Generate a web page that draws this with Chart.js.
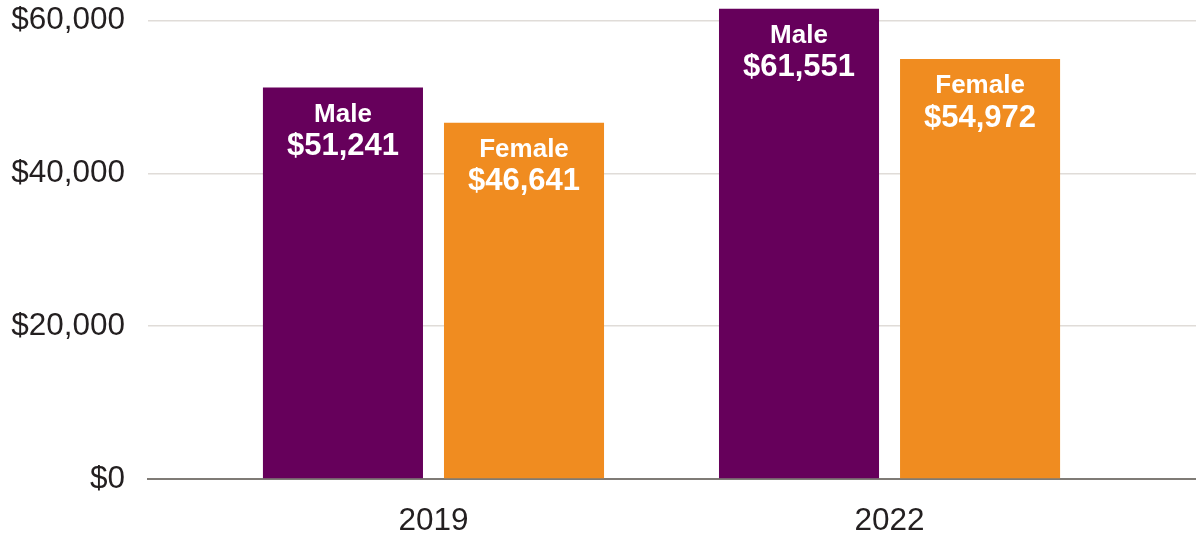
<!DOCTYPE html>
<html>
<head>
<meta charset="utf-8">
<script src="https://cdn.jsdelivr.net/npm/chart.js@4"></script>
<style>
  html, body { margin: 0; padding: 0; background: #fff; }
  #wrap { width: 1196px; height: 534px; }
</style>
</head>
<body>
<div id="wrap"><canvas id="salaryChart"></canvas></div>
<script>
// data
const years = ['2019', '2022'];
const seriesNames = ['Male', 'Female'];
const maleValues = [51241, 61551];
const femaleValues = [46641, 54972];
const yTicks = [0, 20000, 40000, 60000];

const FONT = "'Liberation Sans', Arial, sans-serif";
const fmt = v => '$' + v.toLocaleString('en-US');

// white labels inside the top of each bar
const barLabels = {
    id: 'barLabels',
    afterDatasetsDraw(chart) {
        const ctx = chart.ctx;
        ctx.save();
        ctx.fillStyle = '#ffffff';
        ctx.textAlign = 'center';
        ctx.textBaseline = 'middle';
        chart.data.datasets.forEach((ds, i) => {
            chart.getDatasetMeta(i).data.forEach((bar, j) => {
                ctx.font = 'bold 26px ' + FONT;
                ctx.fillText(ds.label, bar.x, bar.y + 27);
                ctx.font = 'bold 31px ' + FONT;
                ctx.fillText(fmt(ds.data[j].y), bar.x, bar.y + 59);
            });
        });
        ctx.restore();
    }
};

let ctx = document.getElementById('salaryChart').getContext('2d');

let salaryChart = new Chart(ctx, {
    type: 'bar',
    data: {
        datasets: [{
            label: seriesNames[0],
            data: maleValues.map((v, i) => ({ x: i, y: v })),
            backgroundColor: '#66005b'
        }, {
            label: seriesNames[1],
            data: femaleValues.map((v, i) => ({ x: i, y: v })),
            backgroundColor: '#f08c20'
        }]
    },
    options: {
        responsive: true,
        maintainAspectRatio: false,
        animation: false,
        categoryPercentage: 0.794,
        barPercentage: 0.884,
        layout: { padding: 0 },
        plugins: {
            legend: { display: false },
            tooltip: { enabled: false }
        },
        scales: {
            x: {
                type: 'linear',
                offset: false,
                min: -0.626,
                max: 1.672,
                afterBuildTicks: s => { s.ticks = years.map((y, i) => ({ value: i })); },
                afterFit: s => { s.height = 55; s.paddingLeft = 0; s.paddingRight = 0; },
                grid: { display: false },
                border: { display: true, color: '#7f7b76', width: 2 },
                ticks: {
                    callback: v => years[v],
                    padding: 15,
                    color: '#231f20',
                    font: { family: FONT, size: 31.5 },
                    maxRotation: 0
                }
            },
            y: {
                min: 0,
                max: 62700,
                afterBuildTicks: s => { s.ticks = yTicks.map(v => ({ value: v })); },
                afterFit: s => { s.width = 148; s.paddingTop = 0; s.paddingBottom = 0; },
                grid: { color: '#e0dcd8', lineWidth: 1.5, drawTicks: false },
                border: { display: false },
                ticks: {
                    callback: v => fmt(v),
                    padding: 23,
                    color: '#231f20',
                    font: { family: FONT, size: 31.5 }
                }
            }
        }
    },
    plugins: [barLabels]
});
</script>
</body>
</html>
